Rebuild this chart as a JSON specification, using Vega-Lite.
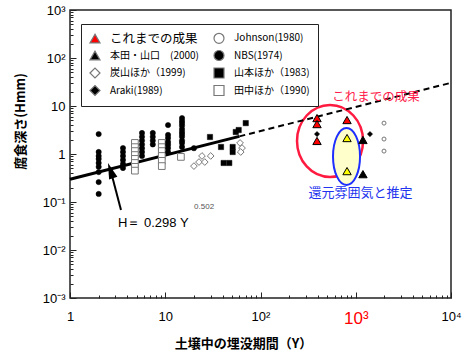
{
  "$schema": "https://vega.github.io/schema/vega-lite/v6.json",
  "width": 381,
  "height": 288,
  "autosize": "none",
  "padding": {"left": 70, "top": 10, "right": 14, "bottom": 58},
  "background": "white",
  "config": {
    "view": {"stroke": "#222", "strokeWidth": 1.5},
    "axis": {"grid": false, "domain": false, "tickColor": "#222", "labelFont": "Liberation Sans", "labelColor": "#000", "titleFont": "Noto Sans CJK JP", "titleFontWeight": "bold", "titleFontSize": 13, "titleColor": "#000"}
  },
  "datasets": {
    "pts": [
      {"s": "NBS(1974)", "x": 2, "y": 2.6},
      {"s": "NBS(1974)", "x": 2, "y": 1.1},
      {"s": "NBS(1974)", "x": 2, "y": 0.91},
      {"s": "NBS(1974)", "x": 2, "y": 0.79},
      {"s": "NBS(1974)", "x": 2, "y": 0.65},
      {"s": "NBS(1974)", "x": 2, "y": 0.54},
      {"s": "NBS(1974)", "x": 2, "y": 0.42},
      {"s": "NBS(1974)", "x": 2, "y": 0.26},
      {"s": "NBS(1974)", "x": 2, "y": 0.147},
      {"s": "NBS(1974)", "x": 3.6, "y": 1.33},
      {"s": "NBS(1974)", "x": 3.6, "y": 1.1},
      {"s": "NBS(1974)", "x": 3.6, "y": 0.91},
      {"s": "NBS(1974)", "x": 3.6, "y": 0.75},
      {"s": "NBS(1974)", "x": 3.6, "y": 0.62},
      {"s": "NBS(1974)", "x": 3.6, "y": 0.51},
      {"s": "NBS(1974)", "x": 5.7, "y": 2.74},
      {"s": "NBS(1974)", "x": 5.7, "y": 2.28},
      {"s": "NBS(1974)", "x": 5.7, "y": 1.9},
      {"s": "NBS(1974)", "x": 5.7, "y": 1.58},
      {"s": "NBS(1974)", "x": 5.7, "y": 1.32},
      {"s": "NBS(1974)", "x": 5.7, "y": 1.1},
      {"s": "NBS(1974)", "x": 5.7, "y": 0.91},
      {"s": "NBS(1974)", "x": 7.4, "y": 2.74},
      {"s": "NBS(1974)", "x": 7.4, "y": 2.28},
      {"s": "NBS(1974)", "x": 7.4, "y": 1.9},
      {"s": "NBS(1974)", "x": 7.4, "y": 1.58},
      {"s": "NBS(1974)", "x": 10.7, "y": 4.0},
      {"s": "NBS(1974)", "x": 10.7, "y": 2.5},
      {"s": "NBS(1974)", "x": 10.7, "y": 2.15},
      {"s": "NBS(1974)", "x": 10.7, "y": 1.78},
      {"s": "NBS(1974)", "x": 10.7, "y": 1.55},
      {"s": "NBS(1974)", "x": 10.7, "y": 1.33},
      {"s": "NBS(1974)", "x": 10.7, "y": 1.1},
      {"s": "NBS(1974)", "x": 15, "y": 5.6},
      {"s": "NBS(1974)", "x": 15, "y": 4.9},
      {"s": "NBS(1974)", "x": 15, "y": 4.4},
      {"s": "NBS(1974)", "x": 15, "y": 3.9},
      {"s": "NBS(1974)", "x": 15, "y": 3.3},
      {"s": "NBS(1974)", "x": 15, "y": 2.9},
      {"s": "NBS(1974)", "x": 15, "y": 2.6},
      {"s": "NBS(1974)", "x": 15, "y": 2.3},
      {"s": "NBS(1974)", "x": 15, "y": 1.9},
      {"s": "NBS(1974)", "x": 15, "y": 1.7},
      {"s": "NBS(1974)", "x": 15, "y": 1.4},
      {"s": "NBS(1974)", "x": 20, "y": 1.32},
      {"s": "田中ほか（1990)", "x": 4.8, "y": 1.7},
      {"s": "田中ほか（1990)", "x": 4.8, "y": 1.39},
      {"s": "田中ほか（1990)", "x": 4.8, "y": 1.15},
      {"s": "田中ほか（1990)", "x": 4.8, "y": 0.95},
      {"s": "田中ほか（1990)", "x": 4.8, "y": 0.79},
      {"s": "田中ほか（1990)", "x": 4.8, "y": 0.65},
      {"s": "田中ほか（1990)", "x": 4.8, "y": 0.54},
      {"s": "田中ほか（1990)", "x": 4.8, "y": 0.45},
      {"s": "田中ほか（1990)", "x": 9.2, "y": 1.7},
      {"s": "田中ほか（1990)", "x": 9.2, "y": 1.39},
      {"s": "田中ほか（1990)", "x": 9.2, "y": 1.15},
      {"s": "田中ほか（1990)", "x": 9.2, "y": 0.91},
      {"s": "田中ほか（1990)", "x": 9.2, "y": 0.72},
      {"s": "田中ほか（1990)", "x": 9.2, "y": 0.56},
      {"s": "田中ほか（1990)", "x": 14.6, "y": 0.87},
      {"s": "炭山ほか（1999)", "x": 20, "y": 0.56},
      {"s": "炭山ほか（1999)", "x": 22.6, "y": 0.68},
      {"s": "炭山ほか（1999)", "x": 24.3, "y": 0.91},
      {"s": "炭山ほか（1999)", "x": 26, "y": 0.68},
      {"s": "炭山ほか（1999)", "x": 30, "y": 0.91},
      {"s": "炭山ほか（1999)", "x": 61, "y": 1.7},
      {"s": "炭山ほか（1999)", "x": 64, "y": 1.33},
      {"s": "炭山ほか（1999)", "x": 62, "y": 1.1},
      {"s": "山本ほか（1983)", "x": 29.5, "y": 2.26},
      {"s": "山本ほか（1983)", "x": 38.5, "y": 1.4},
      {"s": "山本ほか（1983)", "x": 41, "y": 0.65},
      {"s": "山本ほか（1983)", "x": 47, "y": 0.65},
      {"s": "山本ほか（1983)", "x": 51, "y": 1.4},
      {"s": "山本ほか（1983)", "x": 51, "y": 1.1},
      {"s": "山本ほか（1983)", "x": 55, "y": 2.87},
      {"s": "山本ほか（1983)", "x": 59, "y": 3.16},
      {"s": "山本ほか（1983)", "x": 70, "y": 4.4},
      {"s": "Araki(1989)", "x": 392, "y": 2.6},
      {"s": "これまでの成果", "x": 392, "y": 5.6},
      {"s": "これまでの成果", "x": 392, "y": 4.2},
      {"s": "これまでの成果", "x": 392, "y": 1.87},
      {"s": "これまでの成果", "x": 810, "y": 5.1},
      {"s": "還元", "x": 810, "y": 2.15},
      {"s": "還元", "x": 810, "y": 0.44},
      {"s": "本田・山口　(2000)", "x": 1190, "y": 1.96},
      {"s": "本田・山口　(2000)", "x": 1190, "y": 0.38},
      {"s": "Araki(1989)", "x": 1410, "y": 2.6},
      {"s": "Johnson(1980)", "x": 1980, "y": 4.4},
      {"s": "Johnson(1980)", "x": 1980, "y": 2.05},
      {"s": "Johnson(1980)", "x": 1980, "y": 1.15}
    ]
  },
  "resolve": {"axis": {"x": "independent", "y": "independent"}},
  "layer": [
    {
      "data": {"values": [{"x": 537, "y": 1.87}]},
      "mark": {"type": "point", "shape": "M -0.917 0 A 0.917 1 0 1 1 0.917 0 A 0.917 1 0 1 1 -0.917 0 Z", "size": 5184, "filled": false, "stroke": "#ff1a40", "strokeWidth": 2.5, "opacity": 1},
      "encoding": {
        "x": {"field": "x", "type": "quantitative", "scale": {"type": "log", "domain": [1, 10000], "nice": false},
          "axis": {"orient": "bottom", "values": [2,3,4,5,6,7,8,9,20,30,40,50,60,70,80,90,200,300,400,500,600,700,800,900,2000,3000,4000,5000,6000,7000,8000,9000], "tickSize": -3, "labels": false, "title": null}},
        "y": {"field": "y", "type": "quantitative", "scale": {"type": "log", "domain": [0.001, 1000], "nice": false},
          "axis": {"orient": "left", "values": [0.002,0.003,0.004,0.005,0.006,0.007,0.008,0.009,0.02,0.03,0.04,0.05,0.06,0.07,0.08,0.09,0.2,0.3,0.4,0.5,0.6,0.7,0.8,0.9,2,3,4,5,6,7,8,9,20,30,40,50,60,70,80,90,200,300,400,500,600,700,800,900], "tickSize": -3, "labels": false, "title": null}}
      }
    },
    {
      "data": {"values": [{"x": 800, "y": 0.887}]},
      "mark": {"type": "point", "shape": "M -0.474 0 A 0.474 1 0 1 1 0.474 0 A 0.474 1 0 1 1 -0.474 0 Z", "size": 3249, "filled": true, "fill": "#ffffcc", "stroke": "#1f2fff", "strokeWidth": 2, "opacity": 1, "fillOpacity": 1},
      "encoding": {
        "x": {"field": "x", "type": "quantitative", "axis": {"orient": "bottom", "values": [1, 10, 100, 1000, 10000], "tickSize": -6, "labels": false, "title": null}},
        "y": {"field": "y", "type": "quantitative", "axis": {"orient": "left", "values": [0.001, 0.01, 0.1, 1, 10, 100, 1000], "tickSize": -6, "labels": false, "title": null}}
      }
    },
    {
      "data": {"values": [{"x": 1, "y": 0.298}, {"x": 60, "y": 2.33}]},
      "mark": {"type": "line", "color": "#000", "strokeWidth": 3},
      "encoding": {
        "x": {"field": "x", "type": "quantitative", "axis": null},
        "y": {"field": "y", "type": "quantitative", "axis": null}
      }
    },
    {
      "data": {"values": [{"x": 60, "y": 2.33}, {"x": 10000, "y": 30.4}]},
      "mark": {"type": "line", "color": "#000", "strokeWidth": 2, "strokeDash": [6, 4]},
      "encoding": {
        "x": {"field": "x", "type": "quantitative", "axis": null},
        "y": {"field": "y", "type": "quantitative", "axis": null}
      }
    },
    {
      "data": {"values": [{"x": 3.43, "y": 0.068, "x2": 2.67, "y2": 0.453}]},
      "mark": {"type": "rule", "color": "#000", "strokeWidth": 2},
      "encoding": {
        "x": {"field": "x", "type": "quantitative", "axis": null},
        "y": {"field": "y", "type": "quantitative", "axis": null},
        "x2": {"field": "x2"},
        "y2": {"field": "y2"}
      }
    },
    {
      "data": {"values": [{"x": 2.67, "y": 0.453}]},
      "mark": {"type": "point", "shape": "M 0 -1 L 0.55 1 L -0.55 1 Z", "size": 256, "angle": 341, "filled": true, "color": "#000", "opacity": 1},
      "encoding": {
        "x": {"field": "x", "type": "quantitative", "axis": null},
        "y": {"field": "y", "type": "quantitative", "axis": null}
      }
    },
    {
      "data": {"name": "pts"},
      "transform": [{"filter": "datum.s === '炭山ほか（1999)' || datum.s === '田中ほか（1990)'"}],
      "mark": {"type": "point", "filled": true, "opacity": 1, "size": 45, "stroke": "#777", "strokeWidth": 1},
      "encoding": {
        "x": {"field": "x", "type": "quantitative", "axis": null},
        "y": {"field": "y", "type": "quantitative", "axis": null},
        "shape": {"field": "s", "type": "nominal", "title": null,
          "scale": {"domain": ["これまでの成果", "本田・山口　(2000)", "炭山ほか（1999)", "Araki(1989)", "Johnson(1980)", "NBS(1974)", "山本ほか（1983)", "田中ほか（1990)"],
            "range": ["triangle-up", "triangle-up", "diamond", "diamond", "circle", "circle", "square", "square"]}},
        "fill": {"field": "s", "type": "nominal", "title": null,
          "scale": {"domain": ["これまでの成果", "本田・山口　(2000)", "炭山ほか（1999)", "Araki(1989)", "Johnson(1980)", "NBS(1974)", "山本ほか（1983)", "田中ほか（1990)"],
            "range": ["#ff0000", "#000000", "#ffffff", "#000000", "#ffffff", "#000000", "#000000", "#ffffff"]}}
      }
    },
    {
      "data": {"name": "pts"},
      "transform": [{"filter": "datum.s === 'NBS(1974)' || datum.s === '山本ほか（1983)' || datum.s === 'Araki(1989)'"}],
      "mark": {"type": "point", "filled": true, "opacity": 1, "size": 28, "stroke": "#000", "strokeWidth": 0.5},
      "encoding": {
        "x": {"field": "x", "type": "quantitative", "axis": null},
        "y": {"field": "y", "type": "quantitative", "axis": null},
        "shape": {"field": "s", "type": "nominal", "title": null,
          "scale": {"domain": ["これまでの成果", "本田・山口　(2000)", "炭山ほか（1999)", "Araki(1989)", "Johnson(1980)", "NBS(1974)", "山本ほか（1983)", "田中ほか（1990)"],
            "range": ["triangle-up", "triangle-up", "diamond", "diamond", "circle", "circle", "square", "square"]}},
        "fill": {"field": "s", "type": "nominal", "title": null,
          "scale": {"domain": ["これまでの成果", "本田・山口　(2000)", "炭山ほか（1999)", "Araki(1989)", "Johnson(1980)", "NBS(1974)", "山本ほか（1983)", "田中ほか（1990)"],
            "range": ["#ff0000", "#000000", "#ffffff", "#000000", "#ffffff", "#000000", "#000000", "#ffffff"]}}
      }
    },
    {
      "data": {"name": "pts"},
      "transform": [{"filter": "datum.s === 'Johnson(1980)'"}],
      "mark": {"type": "point", "filled": true, "opacity": 1, "size": 16, "stroke": "#777", "strokeWidth": 1},
      "encoding": {
        "x": {"field": "x", "type": "quantitative", "axis": null},
        "y": {"field": "y", "type": "quantitative", "axis": null},
        "shape": {"field": "s", "type": "nominal", "title": null,
          "scale": {"domain": ["これまでの成果", "本田・山口　(2000)", "炭山ほか（1999)", "Araki(1989)", "Johnson(1980)", "NBS(1974)", "山本ほか（1983)", "田中ほか（1990)"],
            "range": ["triangle-up", "triangle-up", "diamond", "diamond", "circle", "circle", "square", "square"]}},
        "fill": {"field": "s", "type": "nominal", "title": null,
          "scale": {"domain": ["これまでの成果", "本田・山口　(2000)", "炭山ほか（1999)", "Araki(1989)", "Johnson(1980)", "NBS(1974)", "山本ほか（1983)", "田中ほか（1990)"],
            "range": ["#ff0000", "#000000", "#ffffff", "#000000", "#ffffff", "#000000", "#000000", "#ffffff"]}}
      }
    },
    {
      "data": {"name": "pts"},
      "transform": [{"filter": "datum.s === '還元'"}],
      "mark": {"type": "point", "filled": true, "opacity": 1, "size": 70, "shape": "triangle-up", "fill": "#ffff00", "stroke": "#000", "strokeWidth": 1},
      "encoding": {
        "x": {"field": "x", "type": "quantitative", "axis": null},
        "y": {"field": "y", "type": "quantitative", "axis": null}
      }
    },
    {
      "data": {"name": "pts"},
      "transform": [{"filter": "datum.s === 'これまでの成果' || datum.s === '本田・山口　(2000)'"}],
      "mark": {"type": "point", "filled": true, "opacity": 1, "size": 70, "stroke": "#000", "strokeWidth": 1},
      "encoding": {
        "x": {"field": "x", "type": "quantitative",
          "axis": {"orient": "bottom", "values": [1, 10, 100, 1000, 10000], "ticks": false, "labelPadding": 12,
            "labelExpr": "['1','10','10²','10³','10⁴'][round(log(datum.value)/LN10)]",
            "labelFontSize": {"condition": {"test": "datum.value == 1000", "value": 17}, "value": 13},
            "labelColor": {"condition": {"test": "datum.value == 1000", "value": "#ff0000"}, "value": "#000"},
            "labelFlush": false, "labelOverlap": false,
            "title": "土壌中の埋没期間（Y）", "titleX": 173, "titleY": 45, "titleBaseline": "middle", "titleAnchor": null}},
        "y": {"field": "y", "type": "quantitative",
          "axis": {"orient": "left", "values": [0.001, 0.01, 0.1, 1, 10, 100, 1000], "ticks": false, "labelPadding": 5, "labelFontSize": 13,
            "labelExpr": "['10⁻³','10⁻²','10⁻¹','1','10','10²','10³'][round(log(datum.value)/LN10)+3]",
            "labelFlush": false, "labelOverlap": false, "labelBaseline": "middle",
            "title": "腐食深さ(Hmm)", "titleX": -50, "titleY": 111, "titleBaseline": "middle", "titleAlign": "center", "titleAngle": -90}},
        "shape": {"field": "s", "type": "nominal", "title": null,
          "scale": {"domain": ["これまでの成果", "本田・山口　(2000)", "炭山ほか（1999)", "Araki(1989)", "Johnson(1980)", "NBS(1974)", "山本ほか（1983)", "田中ほか（1990)"],
            "range": ["triangle-up", "triangle-up", "diamond", "diamond", "circle", "circle", "square", "square"]},
          "legend": {
            "orient": "none", "legendX": 11, "legendY": 14, "columns": 2,
            "strokeColor": "#222", "fillColor": "#ffffff", "padding": 8, "rowPadding": 1.5, "columnPadding": 12,
            "labelFont": "Noto Sans CJK JP", "labelFontSize": {"expr": "datum.value === 'これまでの成果' ? 12.5 : 10"}, "labelColor": "#000", "labelOffset": 9, "labelLimit": 200,
            "symbolSize": 100, "symbolStrokeWidth": 1.2, "symbolStrokeColor": "#000"
          }},
        "fill": {"field": "s", "type": "nominal", "title": null,
          "scale": {"domain": ["これまでの成果", "本田・山口　(2000)", "炭山ほか（1999)", "Araki(1989)", "Johnson(1980)", "NBS(1974)", "山本ほか（1983)", "田中ほか（1990)"],
            "range": ["#ff0000", "#000000", "#ffffff", "#000000", "#ffffff", "#000000", "#000000", "#ffffff"]}}
      }
    },
    {
      "data": {"values": [{"x": 1633, "y": 15.4, "t": "これまでの成果"}]},
      "mark": {"type": "text", "font": "Noto Sans CJK JP", "fontSize": 12.5, "color": "#ff1a4a", "align": "center", "baseline": "middle"},
      "encoding": {
        "x": {"field": "x", "type": "quantitative", "axis": null},
        "y": {"field": "y", "type": "quantitative", "axis": null},
        "text": {"field": "t"}
      }
    },
    {
      "data": {"values": [{"x": 1122, "y": 0.154, "t": "還元雰囲気と推定"}]},
      "mark": {"type": "text", "font": "Noto Sans CJK JP", "fontSize": 13, "color": "#2233ee", "align": "center", "baseline": "middle"},
      "encoding": {
        "x": {"field": "x", "type": "quantitative", "axis": null},
        "y": {"field": "y", "type": "quantitative", "axis": null},
        "text": {"field": "t"}
      }
    },
    {
      "data": {"values": [{"x": 3.19, "y": 0.0365, "t": "H＝ 0.298 Y"}]},
      "mark": {"type": "text", "font": "Liberation Sans", "fontSize": 13, "color": "#000", "align": "left", "baseline": "middle"},
      "encoding": {
        "x": {"field": "x", "type": "quantitative", "axis": null},
        "y": {"field": "y", "type": "quantitative", "axis": null},
        "text": {"field": "t"}
      }
    },
    {
      "data": {"values": [{"x": 25.6, "y": 0.0787, "t": "0.502"}]},
      "mark": {"type": "text", "font": "Liberation Sans", "fontSize": 8, "color": "#555", "align": "center", "baseline": "middle"},
      "encoding": {
        "x": {"field": "x", "type": "quantitative", "axis": null},
        "y": {"field": "y", "type": "quantitative", "axis": null},
        "text": {"field": "t"}
      }
    }
  ]
}
